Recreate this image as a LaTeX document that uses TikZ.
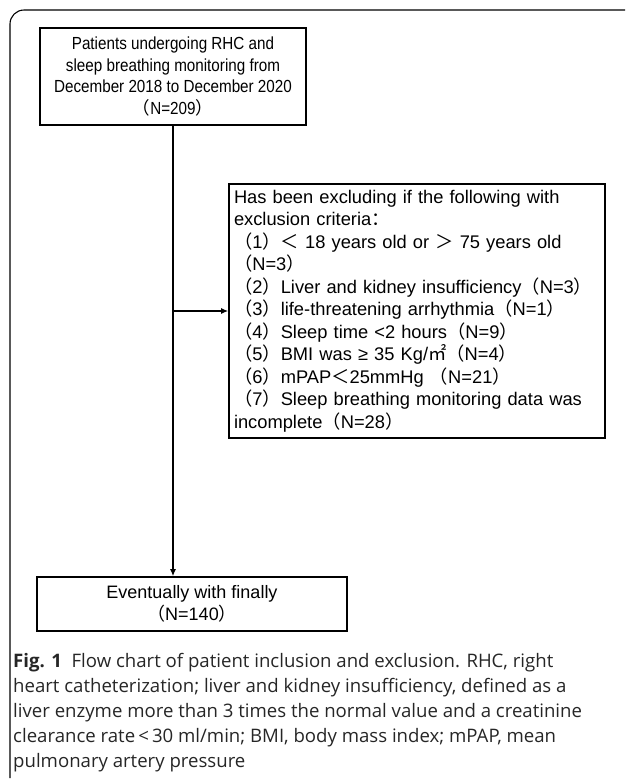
\documentclass[tikz,border=0pt]{standalone}
\usepackage{fontspec}
\setmainfont{Liberation Sans}
\newfontfamily\narrowfont{Liberation Sans}[FakeStretch=0.87]
\newfontfamily\capfont{Open Sans}
\newfontfamily\cjk{Noto Sans CJK SC}
\usetikzlibrary{arrows.meta}
\newcommand{\fwl}{{\cjk （}}
\newcommand{\fwr}{{\cjk ）}}

\begin{document}
\begin{tikzpicture}[x=1pt,y=-1pt,
    box/.style={draw,line width=1.6pt,inner sep=0pt,font=\fontsize{18.3}{22.5}\selectfont},
    link/.style={line width=1.3pt,-{Latex[length=7pt,width=6pt]}}]
      \useasboundingbox (0,0) rectangle (625,780);
      \draw[line width=1.1pt,rounded corners=14pt] (10,778) -- (10,10) -- (625,10);

      \node[box,minimum width=266pt,minimum height=97pt,align=center,font=\narrowfont\fontsize{17.5}{21.8}\selectfont] (start) at (173,76.5)
        {Patients undergoing RHC and\\sleep breathing monitoring from\\December 2018 to December 2020\\\fwl N=209\fwr};
      \node[box,minimum height=254pt,text width=366pt,inner xsep=5pt,align=left] (excl) at (417,311)
        {Has been excluding if the following with\\
         exclusion criteria{\cjk ：}\\
         \fwl 1\fwr{\cjk ＜} 18 years old or {\cjk ＞} 75 years old\\
         \fwl N=3\fwr\\
         \fwl 2\fwr Liver and kidney insufficiency\fwl N=3\fwr\\
         \fwl 3\fwr life-threatening arrhythmia\fwl N=1\fwr\\
         \fwl 4\fwr Sleep time <2 hours\fwl N=9\fwr\\
         \fwl 5\fwr BMI was ≥ 35 Kg/{\cjk ㎡}\fwl N=4\fwr\\
         \fwl 6\fwr mPAP{\cjk ＜}25mmHg \fwl N=21\fwr\\
         \fwl 7\fwr Sleep breathing monitoring data was\\
         incomplete\fwl N=28\fwr};
      \node[box,minimum width=310pt,minimum height=54pt,align=center,font=\fontsize{18}{22}\selectfont] (final) at (192,604)
        {Eventually with finally\\\fwl N=140\fwr};
      \coordinate (split) at (173,311);

      \node[anchor=north west,inner sep=0pt,align=left,font=\capfont\fontsize{18.6}{25}\selectfont,text=black!85] (caption) at (13,653)
        {\textbf{Fig. 1}\ \ Flow chart of patient inclusion and exclusion. RHC, right\\
         heart catheterization; liver and kidney insufficiency, defined as a\\
         liver enzyme more than 3 times the normal value and a creatinine\\
         clearance rate\,<\,30 ml/min; BMI, body mass index; mPAP, mean\\
         pulmonary artery pressure};

      \draw[link] (start.south) -- (start.south |- final.north);
      \draw[link] (split) -- (excl.west);
\end{tikzpicture}
\end{document}
